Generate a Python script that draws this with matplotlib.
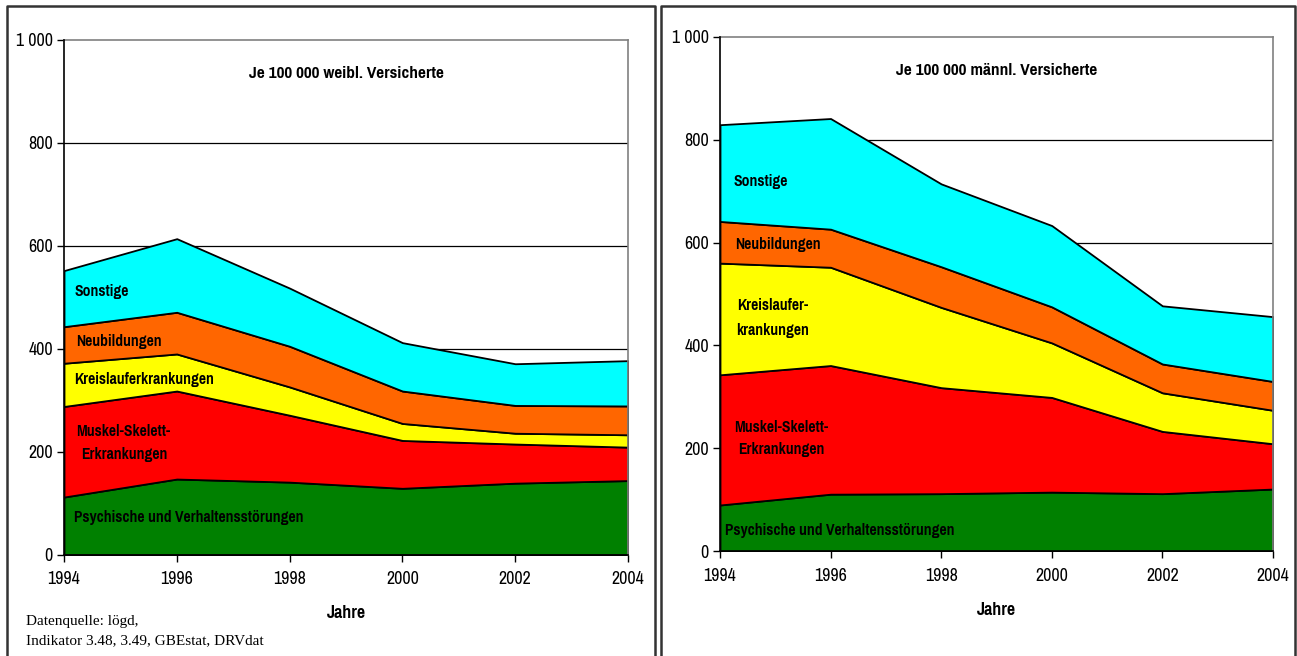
import matplotlib
matplotlib.use("Agg")
import matplotlib.pyplot as plt
from matplotlib import font_manager
from matplotlib.ticker import FuncFormatter, FixedLocator
from matplotlib.lines import Line2D

# --- data -------------------------------------------------------------
years = [1994, 1996, 1998, 2000, 2002, 2004]
categories = ["Psychische und Verhaltensstörungen", "Muskel-Skelett-Erkrankungen",
              "Kreislauferkrankungen", "Neubildungen", "Sonstige"]

# cases per 100 000 insured women
women_psych = [112, 147, 141, 129, 139, 144]
women_muskel = [176, 171, 130, 93, 76, 65]
women_kreislauf = [84, 72, 55, 33, 21, 24]
women_neub = [71, 81, 79, 63, 54, 56]
women_sonst = [109, 143, 113, 94, 81, 88]

# cases per 100 000 insured men
men_psych = [90, 111, 112, 115, 112, 121]
men_muskel = [253, 250, 206, 184, 121, 88]
men_kreislauf = [217, 191, 156, 106, 75, 65]
men_neub = [81, 74, 79, 70, 56, 56]
men_sonst = [188, 215, 161, 158, 113, 126]

y_ticks = [0, 200, 400, 600, 800, 1000]
colors = ["#008000", "#FF0000", "#FFFF00", "#FF6600", "#00FFFF"]

# --- fonts ------------------------------------------------------------
available = {f.name for f in font_manager.fontManager.ttflist}
narrow = next((n for n in ("Pragati Narrow", "Roboto Condensed", "Archivo Narrow")
               if n in available), "Liberation Sans")
serif = "Liberation Serif"
plt.rcParams["font.family"] = [narrow, "DejaVu Sans"]

W, H = 1297, 656
fig = plt.figure(figsize=(W / 100, H / 100), dpi=100)


def px_box(x0, y0, x1, y1):
    return [x0 / W, 1 - y1 / H, (x1 - x0) / W, (y1 - y0) / H]


def thousands(v, _):
    return f"{int(v):,}".replace(",", " ")


def draw_panel(rect, series, title, labels):
    ax = fig.add_axes(rect)
    for yv in y_ticks[1:-1]:
        ax.axhline(yv, color="black", lw=0.9, zorder=0)
    ax.stackplot(years, *series, colors=colors, edgecolor="black",
                 linewidth=1.3, zorder=2)
    ax.set_xlim(years[0], years[-1])
    ax.set_ylim(0, 1000)
    ax.xaxis.set_major_locator(FixedLocator(years))
    ax.yaxis.set_major_locator(FixedLocator(y_ticks))
    ax.yaxis.set_major_formatter(FuncFormatter(thousands))
    ax.tick_params(axis="both", direction="out", length=5, width=1,
                   labelsize=14, colors="black")
    ax.tick_params(axis="x", pad=7)
    ax.tick_params(axis="y", pad=3)
    for side in ("top", "right"):
        ax.spines[side].set_color("#808080")
        ax.spines[side].set_linewidth(1.2)
    for side in ("left", "bottom"):
        ax.spines[side].set_color("black")
        ax.spines[side].set_linewidth(1.2)
        ax.spines[side].set_zorder(3)
    ax.text(0.5, 0.935, title, transform=ax.transAxes, ha="center", va="center",
            fontsize=13.5, fontweight="bold")
    for (tx, ty, txt) in labels:
        ax.text(tx, ty, txt, ha="left", va="center", fontsize=12.2,
                fontweight="bold", zorder=4)
    ax.set_xlabel("Jahre", fontsize=14, fontweight="bold", labelpad=13)
    return ax


women = [women_psych, women_muskel, women_kreislauf, women_neub, women_sonst]
men = [men_psych, men_muskel, men_kreislauf, men_neub, men_sonst]

draw_panel(px_box(64, 40, 628, 554.7), women, "Je 100 000 weibl. Versicherte",
           [(1994.18, 512, "Sonstige"),
            (1994.21, 415, "Neubildungen"),
            (1994.18, 341, "Kreislauferkrankungen"),
            (1994.21, 240, "Muskel-Skelett-"),
            (1994.30, 194, "Erkrankungen"),
            (1994.18, 73, "Psychische und Verhaltensstörungen")])

draw_panel(px_box(720, 36.7, 1273, 551.3), men, "Je 100 000 männl. Versicherte",
           [(1994.24, 718, "Sonstige"),
            (1994.27, 597, "Neubildungen"),
            (1994.31, 477, "Kreislaufer-"),
            (1994.29, 430, "krankungen"),
            (1994.25, 241, "Muskel-Skelett-"),
            (1994.33, 197, "Erkrankungen"),
            (1994.09, 41, "Psychische und Verhaltensstörungen")])

# source note
fig.text(26 / W, 1 - 622 / H, "Datenquelle: lögd,", family=serif, fontsize=11,
         ha="left", va="center")
fig.text(26 / W, 1 - 641 / H, "Indikator 3.48, 3.49, GBEstat, DRVdat", family=serif,
         fontsize=11, ha="left", va="center")

# outer panel frames (open at the bottom edge)
def frame(x0, x1, y0):
    xs = [x0 / W, x0 / W, x1 / W, x1 / W]
    ys = [0, 1 - y0 / H, 1 - y0 / H, 0]
    fig.add_artist(Line2D(xs, ys, color="#333333", lw=1.8, transform=fig.transFigure))

frame(7, 655, 6)
frame(661, 1295, 6)

fig.savefig("out.png", dpi=100)
